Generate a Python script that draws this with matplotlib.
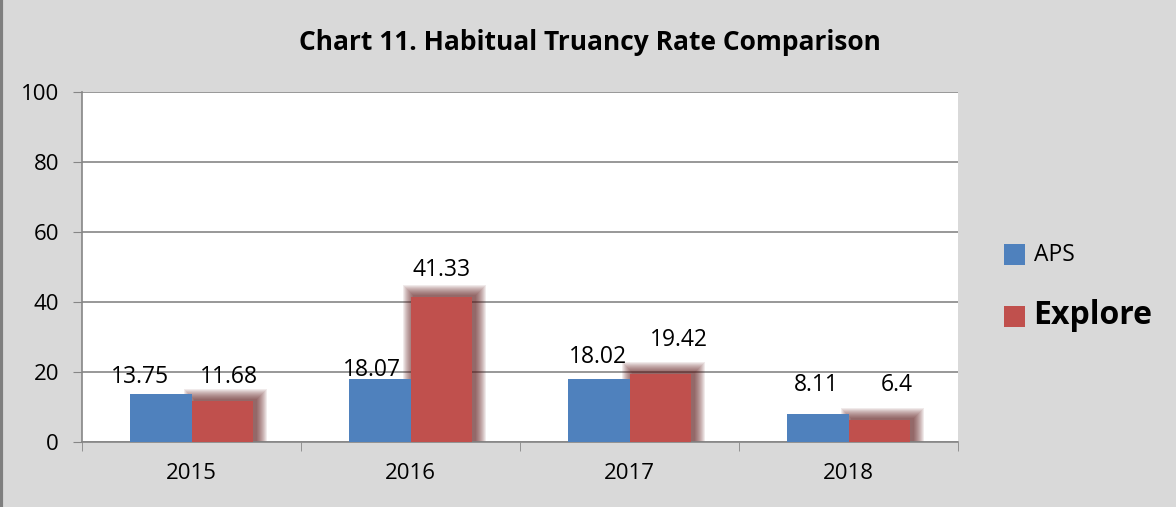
import numpy as np
import matplotlib.pyplot as plt
from matplotlib.patches import Rectangle

years = ['2015', '2016', '2017', '2018']
aps = [13.75, 18.07, 18.02, 8.11]
explore = [11.68, 41.33, 19.42, 6.4]
aps_labels = ['13.75', '18.07', '18.02', '8.11']
explore_labels = ['11.68', '41.33', '19.42', '6.4']

# label offsets from bar top centre (pixels)
aps_dx = [-21, -8, -1, -1]
aps_dy = [17, 9, 22, 29]
explore_dx = [6, 0, 18, 17]
explore_dy = [24, 27, 34, 35]

plt.rcParams['font.family'] = ['Open Sans', 'DejaVu Sans']

blue = '#4f81bd'
red = '#c0504d'
bg = '#d9d9d9'

fig = plt.figure(figsize=(11.76, 5.07), dpi=100)
fig.patch.set_facecolor(bg)
ax = fig.add_axes([82 / 1176, 1 - 442 / 507, (958 - 82) / 1176, 350 / 507])
ax.set_facecolor('white')

x = np.arange(len(years))
w = 0.283
px_x = 4 / 876    # data units per pixel
px_y = 100 / 350

# soft dark glow behind the red bars
for i, v in enumerate(explore):
    for k in range(11, 0, -1):
        ax.add_patch(Rectangle((x[i] - k * px_x + 3 * px_x, 0), w + 2 * k * px_x,
                               v + (k + 1) * px_y,
                               facecolor='#5a1414', alpha=0.085, edgecolor='none', zorder=2))

ax.bar(x - w / 2, aps, w, color=blue, zorder=3, label='APS')
ax.bar(x + w / 2, explore, w, color=red, zorder=3, label='Explore')

for i in range(len(years)):
    ax.annotate(aps_labels[i], (x[i] - w / 2, aps[i]),
                xytext=(aps_dx[i] * 0.72, aps_dy[i] * 0.72),
                textcoords='offset points', ha='center', va='center', fontsize=16.5, zorder=5)
    ax.annotate(explore_labels[i], (x[i] + w / 2, explore[i]),
                xytext=(explore_dx[i] * 0.72, explore_dy[i] * 0.72),
                textcoords='offset points', ha='center', va='center', fontsize=16.5, zorder=5)

ax.set_xlim(-0.5, 3.5)
ax.set_ylim(0, 100)
ax.set_yticks([0, 20, 40, 60, 80, 100])
ax.yaxis.grid(True, color='#868686', linewidth=1.2, zorder=0)
ax.set_axisbelow(True)
ax.tick_params(axis='y', length=6.5, color='#868686', labelsize=16, pad=10)
ax.set_xticks(x)
ax.set_xticklabels(years)
ax.set_xticks(np.arange(-0.5, 4, 1), minor=True)
ax.tick_params(axis='x', which='major', length=0, labelsize=16, pad=15)
ax.tick_params(axis='x', which='minor', length=6.5, color='#868686')
for s in ['top', 'right']:
    ax.spines[s].set_visible(False)
for s in ['left', 'bottom']:
    ax.spines[s].set_color('#868686')
    ax.spines[s].set_linewidth(1.2)

fig.text(590 / 1176, 1 - 42 / 507, 'Chart 11. Habitual Truancy Rate Comparison',
         ha='center', va='center', fontsize=19, fontweight='bold')

# legend
fig.patches.append(Rectangle((1004 / 1176, 1 - 265 / 507), 21 / 1176, 21 / 507,
                             facecolor=blue, transform=fig.transFigure, figure=fig))
fig.text(1034 / 1176, 1 - 255 / 507, 'APS', va='center', fontsize=16.5)
fig.patches.append(Rectangle((1004 / 1176, 1 - 327 / 507), 21 / 1176, 21 / 507,
                             facecolor=red, transform=fig.transFigure, figure=fig))
fig.text(1033 / 1176, 1 - 316 / 507, 'Explore', va='center', fontsize=23, fontweight='bold')

# chart border on the left edge
fig.add_artist(plt.Line2D([1.5 / 1176, 1.5 / 1176], [0, 1], color='#7f7f7f', linewidth=3,
                          transform=fig.transFigure))

fig.savefig('out.png', dpi=100, facecolor=bg)
